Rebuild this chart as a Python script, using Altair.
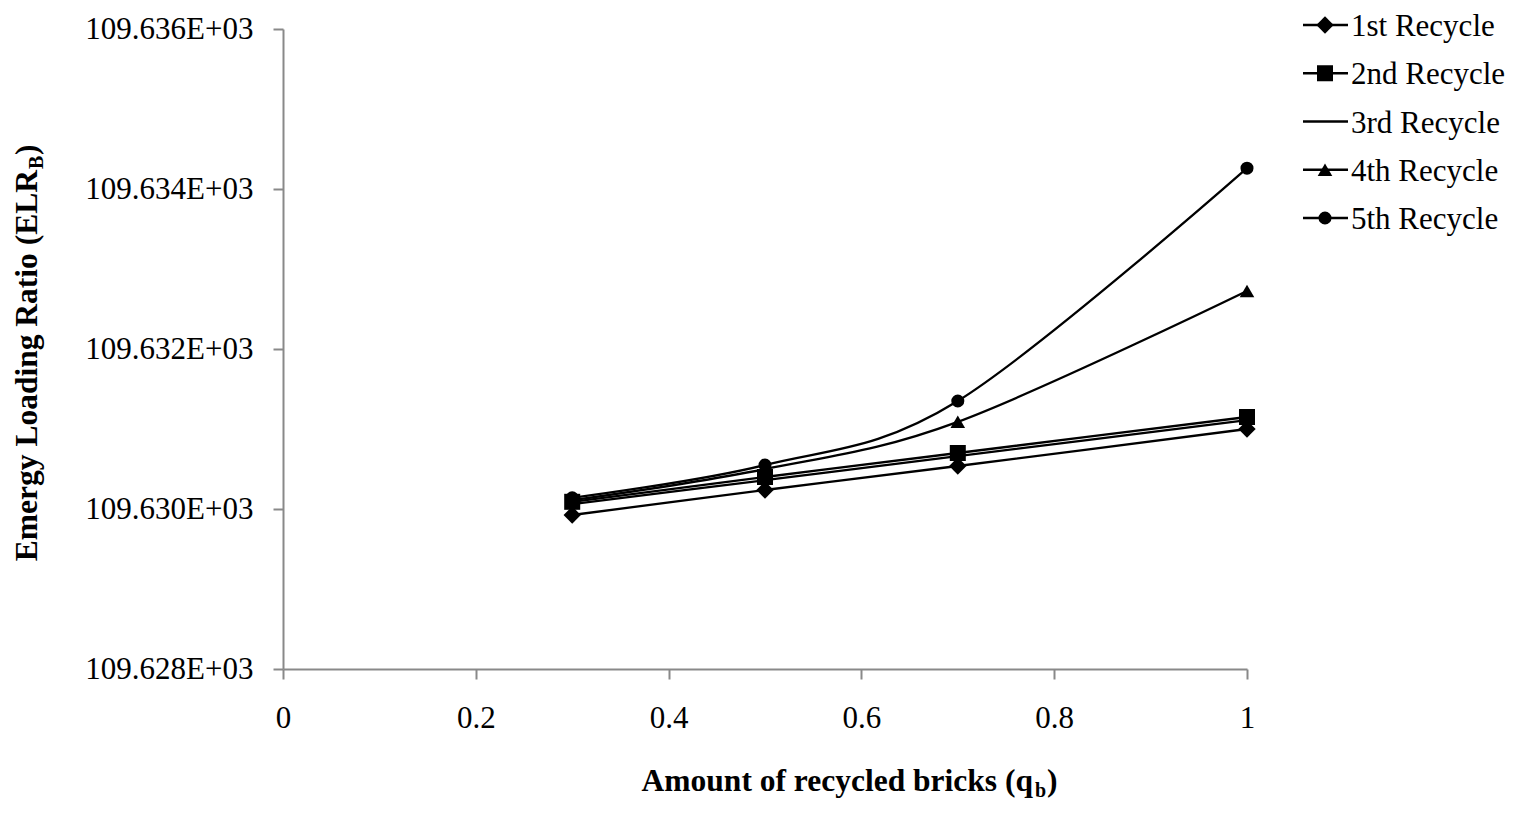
import altair as alt
import pandas as pd

# ---- data ----
x_vals = [0.3, 0.5, 0.7, 1.0]
series_names = ["1st Recycle", "2nd Recycle", "3rd Recycle", "4th Recycle", "5th Recycle"]
elr_1st = [109629.925, 109630.2375, 109630.5375, 109631.0]
elr_2nd = [109630.09, 109630.40, 109630.70, 109631.15]
elr_3rd = [109630.06, 109630.36, 109630.66, 109631.11]
elr_4th = [109630.11, 109630.50, 109631.09, 109632.725]
elr_5th = [109630.14, 109630.55, 109631.35, 109634.26]
y_ticks = [109628, 109630, 109632, 109634, 109636]
x_ticks = [0, 0.2, 0.4, 0.6, 0.8, 1.0]

marker_series = ["1st Recycle", "2nd Recycle", "4th Recycle", "5th Recycle"]
marker_shapes = ["diamond", "square", "triangle-up", "circle"]
marker_sizes = [300, 170, 340, 220]

rows = []
for name, vals in zip(series_names, [elr_1st, elr_2nd, elr_3rd, elr_4th, elr_5th]):
    for q, v in zip(x_vals, vals):
        rows.append({"series": name, "q": q, "elr": v})
df = pd.DataFrame(rows)
legend_df = pd.DataFrame({"series": series_names})

FONT = "Liberation Serif"
AXIS_GREY = "#898989"

x_enc = alt.X(
    "q:Q",
    scale=alt.Scale(domain=[0, 1], nice=False, zero=False),
    axis=alt.Axis(values=x_ticks, format="~g", title=None, labelFlush=False,
                  labelPadding=24, labelOverlap=False),
)
y_enc = alt.Y(
    "elr:Q",
    scale=alt.Scale(domain=[109628, 109636], nice=False, zero=False),
    axis=alt.Axis(values=y_ticks, title=None, labelPadding=20, labelOverlap=False,
                  labelExpr="format(datum.value / 1000, '.3f') + 'E+03'"),
)
shape_scale = alt.Scale(domain=marker_series, range=marker_shapes)
size_scale = alt.Scale(domain=marker_series, range=marker_sizes)

lines = alt.Chart(df).mark_line(
    interpolate="cardinal", color="black", strokeWidth=2.3
).encode(x=x_enc, y=y_enc, detail="series:N")

points = alt.Chart(df).transform_filter(
    alt.FieldOneOfPredicate(field="series", oneOf=marker_series)
).mark_point(filled=True, color="black", opacity=1).encode(
    x="q:Q",
    y="elr:Q",
    shape=alt.Shape("series:N", scale=shape_scale, legend=None),
    size=alt.Size("series:N", scale=size_scale, legend=None),
)

main = alt.layer(lines, points)

# ---- manual legend (line + marker + label) ----
leg_y = alt.Y("series:N", scale=alt.Scale(type="point", domain=series_names,
                                          range=[-4, 189], padding=0), axis=None)
leg_rule = alt.Chart(legend_df).mark_rule(color="black", strokeWidth=2.3).encode(
    x=alt.value(1020), x2=alt.value(1065), y=leg_y
)
leg_pts = alt.Chart(legend_df).transform_filter(
    alt.FieldOneOfPredicate(field="series", oneOf=marker_series)
).mark_point(filled=True, color="black", opacity=1).encode(
    x=alt.value(1042), y=leg_y,
    shape=alt.Shape("series:N", scale=shape_scale, legend=None),
    size=alt.Size("series:N", scale=size_scale, legend=None),
)
leg_txt = alt.Chart(legend_df).mark_text(
    align="left", baseline="middle", font=FONT, fontSize=31, color="black", dy=2
).encode(x=alt.value(1068), y=leg_y, text="series:N")
legend = alt.layer(leg_rule, leg_pts, leg_txt)

# ---- axis titles with subscripts ----
one = pd.DataFrame({"k": [0]})
tstyle = dict(font=FONT, fontWeight="bold", color="black", baseline="alphabetic")
xt1 = alt.Chart(one).mark_text(text="Amount of recycled bricks (q", align="right",
                               fontSize=31.5, **tstyle).encode(x=alt.value(750), y=alt.value(762))
xt2 = alt.Chart(one).mark_text(text="b", align="left", fontSize=20,
                               **tstyle).encode(x=alt.value(752), y=alt.value(768))
xt3 = alt.Chart(one).mark_text(text=")", align="left", fontSize=31.5,
                               **tstyle).encode(x=alt.value(764), y=alt.value(762))
yt1 = alt.Chart(one).mark_text(text="Emergy Loading Ratio (ELR", align="right", angle=270,
                               fontSize=31.5, **tstyle).encode(x=alt.value(-246), y=alt.value(141))
yt2 = alt.Chart(one).mark_text(text="B", align="left", angle=270, fontSize=20,
                               **tstyle).encode(x=alt.value(-240), y=alt.value(140))
yt3 = alt.Chart(one).mark_text(text=")", align="left", angle=270, fontSize=31.5,
                               **tstyle).encode(x=alt.value(-246), y=alt.value(126))
titles = alt.layer(xt1, xt2, xt3, yt1, yt2, yt3)

chart = alt.layer(main, legend, titles).resolve_scale(y="independent").properties(
    width=964,
    height=640,
    autosize=alt.AutoSizeParams(type="none"),
    padding={"left": 275, "top": 21, "right": 262, "bottom": 139},
).configure_view(stroke=None).configure_axis(
    labelFont=FONT, labelFontSize=31, labelColor="black",
    domainColor=AXIS_GREY, tickColor=AXIS_GREY, domainWidth=2, tickWidth=2,
    tickSize=10, grid=False,
)

chart.save("out.html", embed_options={"renderer": "svg", "actions": False})
